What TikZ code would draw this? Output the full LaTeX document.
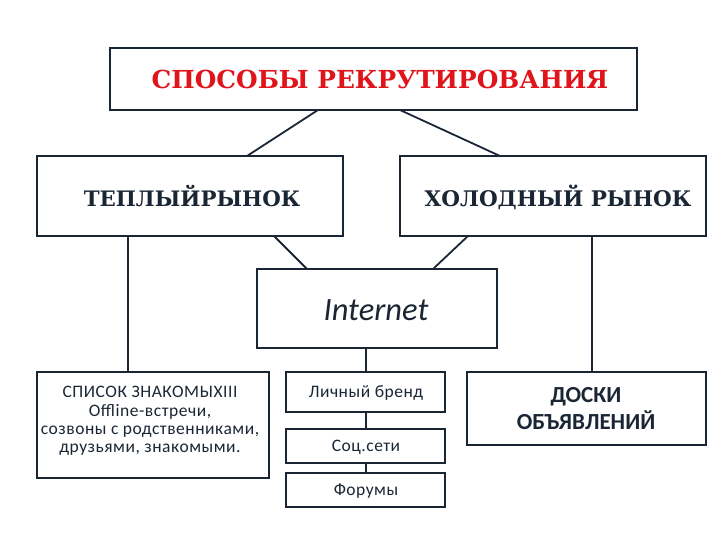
\documentclass[tikz,border=0pt]{standalone}
\usepackage{fontspec}
\setmainfont{Carlito}
\newfontfamily\heavyserif{DejaVu Serif}
\newfontfamily\spacedsans[LetterSpace=3]{Carlito}
\definecolor{navy}{HTML}{1B2635}
\definecolor{titlered}{HTML}{E0141B}
\begin{document}
\begin{tikzpicture}[x=1pt,y=-1pt,
  boxstyle/.style={draw=navy,line width=1.8pt,fill=white},
  link/.style={draw=navy,line width=1.8pt},
  lbl/.style={align=center,text=navy,inner sep=0pt},
  small/.style={lbl,font=\spacedsans\fontsize{17.5}{18}\selectfont}]
\useasboundingbox (0,0) rectangle (720,540);
% boxes
\draw[boxstyle] (110,48) rectangle (637,110);
\draw[boxstyle] (37,156) rectangle (343,236);
\draw[boxstyle] (400,156) rectangle (706,236);
\draw[boxstyle] (257,269) rectangle (497,348);
\draw[boxstyle] (37,372) rectangle (269,478);
\draw[boxstyle] (286,372) rectangle (445,412);
\draw[boxstyle] (286,429) rectangle (445,463);
\draw[boxstyle] (286,473) rectangle (445,507);
\draw[boxstyle] (467,372) rectangle (706,445);
% named anchors of boxes
\coordinate (topL) at (318,110);
\coordinate (topR) at (400,110);
\coordinate (warmT) at (247,156);
\coordinate (coldT) at (500,156);
\coordinate (warmB) at (274,236);
\coordinate (warmBL) at (128,236);
\coordinate (coldB) at (468,236);
\coordinate (coldBR) at (592,236);
\coordinate (netTL) at (307,269);
\coordinate (netTR) at (433,269);
\coordinate (netB) at (366,348);
\coordinate (listT) at (128,372);
\coordinate (brandT) at (366,372);
\coordinate (brandB) at (366,412);
\coordinate (socT) at (366,429);
\coordinate (socB) at (366,463);
\coordinate (forT) at (366,473);
\coordinate (boardT) at (592,372);
% connectors
\draw[link] (topL) -- (warmT);
\draw[link] (topR) -- (coldT);
\draw[link] (warmB) -- (netTL);
\draw[link] (coldB) -- (netTR);
\draw[link] (warmBL) -- (listT);
\draw[link] (coldBR) -- (boardT);
\draw[link] (netB) -- (brandT);
\draw[link] (brandB) -- (socT);
\draw[link] (socB) -- (forT);
% texts
\node[lbl,text=titlered,font=\heavyserif\bfseries\fontsize{24.8}{28}\selectfont] (ttl) at (380,79) {СПОСОБЫ РЕКРУТИРОВАНИЯ};
\node[lbl,font=\heavyserif\bfseries\fontsize{21.3}{24}\selectfont] (warm) at (192,196) {ТЕПЛЫЙРЫНОК};
\node[lbl,font=\heavyserif\bfseries\fontsize{21.5}{24}\selectfont] (cold) at (558,197) {ХОЛОДНЫЙ РЫНОК};
\node[lbl,font=\itshape\fontsize{32.5}{34}\selectfont] (net) at (376,310) {Internet};
\node[lbl,font=\spacedsans\fontsize{17.5}{18.4}\selectfont] (list) at (150,421) {СПИСОК ЗНАКОМЫХIII\\Offline-встречи,\\созвоны с родственниками,\\друзьями, знакомыми.};
\node[small] (brand) at (366,393) {Личный бренд};
\node[small] (soc) at (366,447) {Соц.сети};
\node[small] (forum) at (366,491) {Форумы};
\node[lbl,font=\bfseries\fontsize{23}{27}\selectfont] (board) at (586,409) {ДОСКИ\\ОБЪЯВЛЕНИЙ};
\end{tikzpicture}
\end{document}
